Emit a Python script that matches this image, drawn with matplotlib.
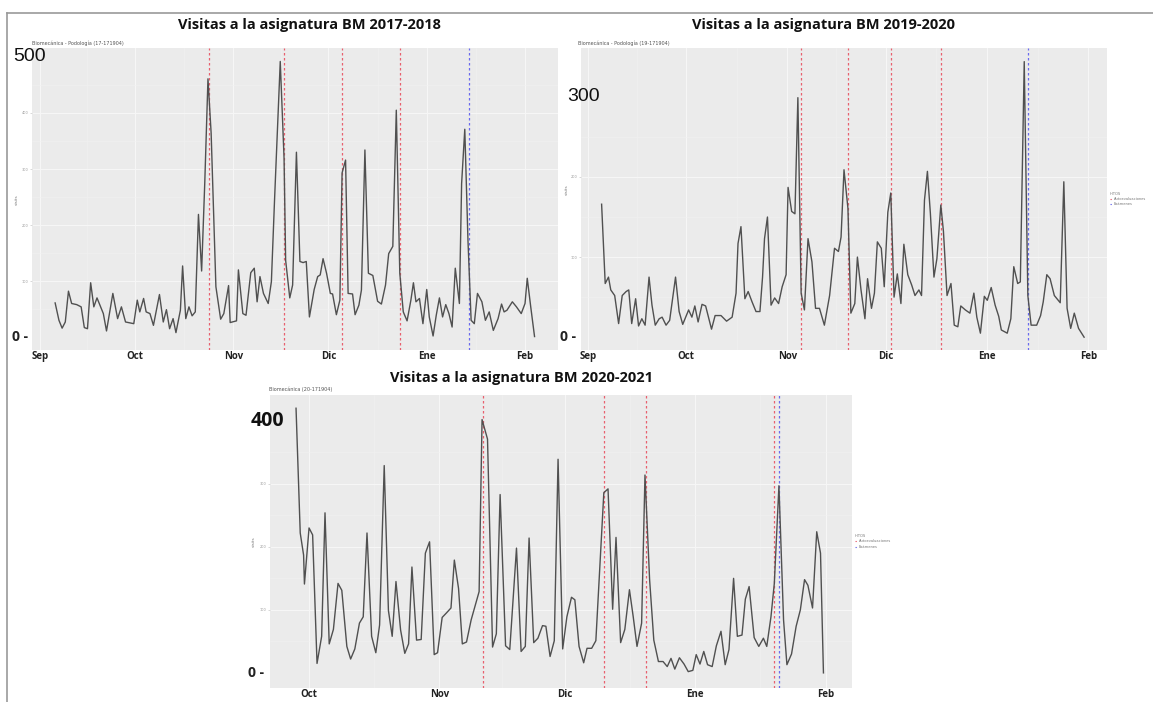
import numpy as np
import pandas as pd
import matplotlib
matplotlib.use("Agg")
import matplotlib.pyplot as plt
import matplotlib.transforms as mtransforms
from matplotlib.lines import Line2D

# ---- data (day offsets from the first month shown) ----
tl_day = [4.8, 6, 7, 8, 9, 10, 11.6, 13, 14, 15, 16, 17, 18, 20, 21, 23, 24.5, 25.7, 27, 29.6,
          30.7, 31.5, 32.7, 33.5, 34.7, 35.8, 37.7, 38.9, 39.9, 40.9, 42, 42.9, 44.3, 45, 46, 47, 48, 49, 50, 51,
          52, 53, 54, 55.5, 57, 58, 59.5, 60, 62, 62.6, 64, 65, 66.5, 67.6, 68.5, 69.4, 70.5, 72, 73, 74,
          75.8, 77, 77.5, 78.8, 79.7, 80.9, 82, 83, 84, 85, 86.5, 87.6, 88.4, 89.3, 90.4, 91.6, 92.3, 93.5, 94.6, 95.3,
          96.4, 97.2, 98.6, 99.4, 100.6, 101.4, 102.5, 103.6, 105, 106.5, 107.7, 109, 110, 111.3, 112.4, 113.5, 114.6, 115.8, 117, 117.8,
          118.6, 119.7, 120.8, 122, 122.8, 124, 125, 126, 127, 128, 129, 130, 131, 132.3, 133, 134, 135, 136, 137, 138,
          139.4, 140.5, 141.7, 143, 144.5, 145.6, 146.4, 147.3, 149, 150.3, 151.8, 153, 153.7, 154.8, 156]
tl_val = [61, 30, 16, 27, 82, 60, 58, 54, 17, 15, 97, 54, 70, 42, 11, 78, 33, 54, 27, 24,
          66, 45, 69, 45, 42, 21, 76, 27, 49, 15, 33, 8, 48, 127, 33, 54, 38, 45, 219, 118,
          277, 461, 364, 90, 32, 42, 92, 26, 29, 120, 42, 39, 115, 123, 63, 108, 78, 60, 99, 245,
          492, 319, 137, 70, 93, 330, 135, 133, 135, 36, 85, 108, 111, 140, 114, 78, 77, 40, 66, 293,
          316, 78, 77, 40, 57, 84, 334, 114, 110, 64, 59, 93, 149, 162, 405, 114, 45, 29, 66, 97,
          63, 69, 24, 85, 36, 2, 39, 70, 36, 58, 42, 18, 123, 60, 274, 371, 173, 30, 24, 78,
          63, 30, 45, 12, 33, 59, 45, 48, 63, 54, 42, 60, 105, 54, 1]
tl_autoeval = [53.3, 76.9, 95.3, 113.7]
tl_examen = [135.2]

tr_day = [4.2, 5.3, 6.3, 7, 8.2, 9.4, 10.5, 11.7, 12.5, 13.4, 14.6, 15.5, 16.5, 17.5, 18.7, 19.6, 20.6, 21.8, 22.7, 23.9,
          25, 26.8, 27.9, 29, 30.8, 31.8, 32.7, 33.7, 34.9, 36, 37.8, 38.9, 40.7, 42.4, 44.1, 45.3, 45.9, 46.8, 48, 49,
          50.2, 51.4, 52.6, 53.4, 54, 54.9, 56, 57.1, 58.3, 59.4, 60.6, 61.2, 62.3, 63.3, 64.2, 65.2, 66.2, 67.3, 68.5, 69.6,
          70.8, 72.3, 73.9, 75.4, 76.6, 77.4, 78.3, 79.5, 80.4, 81.6, 82.4, 83.5, 84.7, 85.5, 86.7, 87.6, 88.5, 89.7, 90.6, 91.7,
          92.6, 93.6, 94.6, 95.7, 96.6, 97.8, 99, 100, 101.2, 102, 102.9, 103.8, 104.7, 105.8, 106.7, 107.9, 108.7, 109.8, 111, 112,
          113.1, 114, 115.4, 116.8, 118, 118.9, 120, 121.2, 122.1, 123.3, 124.5, 125.6, 126.4, 128.2, 129.3, 130.2, 131.4, 132.2, 133.4, 134.5,
          135.5, 137.2, 138.4, 139.2, 140.3, 141.3, 142.6, 144.4, 145.5, 146.5, 147.6, 148.7, 150, 151.7]
tr_val = [166, 67, 75, 59, 52, 17, 52, 57, 59, 17, 48, 14, 23, 15, 75, 40, 15, 23, 25, 15,
          21, 75, 32, 16, 34, 25, 39, 19, 41, 39, 10, 27, 27, 20, 25, 55, 117, 138, 48, 57,
          44, 32, 32, 75, 123, 150, 40, 49, 42, 63, 78, 187, 157, 154, 299, 55, 34, 123, 94, 36,
          36, 15, 52, 111, 107, 125, 209, 161, 30, 42, 100, 59, 23, 73, 36, 55, 119, 111, 63, 156,
          180, 50, 79, 42, 116, 78, 65, 52, 59, 52, 171, 207, 155, 75, 98, 165, 132, 52, 67, 15,
          13, 39, 34, 30, 55, 25, 5, 51, 46, 62, 40, 26, 9, 5, 23, 88, 67, 69, 344, 52,
          15, 15, 27, 44, 78, 73, 52, 43, 194, 36, 11, 30, 11, 0]
tr_autoeval = [65.2, 79.5, 92.8, 107.9]
tr_examen = [134.5]

bt_day = [-3.1, -2.1, -1.3, -1.1, 0, 0.85, 1.9, 3, 3.8, 4.8, 5.8, 6.9, 7.8, 9, 9.9, 10.9, 12, 12.9, 13.8, 14.9,
          15.9, 16.8, 17.9, 18.9, 19.8, 20.7, 21.8, 22.8, 23.7, 24.5, 25.6, 26.7, 27.7, 28.7, 29.8, 30.6, 31.7, 32.7, 33.8, 34.6,
          35.6, 36.5, 37.5, 38.6, 39.4, 40.5, 41.2, 42.5, 43.7, 44.6, 45.5, 46.8, 47.8, 49.4, 50.5, 51.5, 52.4, 53.5, 54.5, 55.6,
          56.4, 57.4, 58.4, 59.3, 60.4, 61.4, 62.5, 63.3, 64.3, 65.4, 66.2, 67.3, 68.3, 69.4, 70.2, 71.2, 72.3, 73.1, 74.2, 75.2,
          76.3, 77.2, 78.1, 79.2, 80, 81.1, 82.1, 83.2, 84.3, 85.3, 86.2, 87.1, 88.2, 89.3, 90.3, 91.4, 92.2, 93.1, 94, 94.9,
          96, 97, 98.1, 99.1, 100, 101.1, 102, 103.1, 103.9, 104.8, 106, 107.1, 108.2, 109, 110, 110.8, 111.9, 113, 113.8, 114.9,
          116, 117, 118, 118.8, 119.9, 120.9, 121.8, 122.5]
bt_val = [420, 222, 187, 141, 230, 219, 15, 58, 254, 46, 69, 142, 131, 42, 22, 38, 79, 89, 222, 58,
          32, 76, 329, 99, 58, 145, 68, 31, 46, 168, 52, 53, 190, 208, 29, 32, 88, 95, 103, 179,
          134, 46, 49, 84, 103, 129, 402, 371, 41, 62, 283, 43, 37, 198, 34, 42, 214, 48, 55, 75,
          74, 26, 51, 339, 38, 89, 120, 116, 42, 16, 39, 39, 51, 187, 286, 292, 101, 215, 48, 69,
          132, 89, 42, 79, 314, 148, 52, 18, 18, 10, 23, 6, 24, 14, 2, 4, 29, 14, 34, 13,
          10, 43, 66, 13, 37, 150, 58, 60, 117, 137, 56, 42, 55, 42, 89, 142, 297, 84, 13, 30,
          74, 100, 148, 139, 103, 224, 190, 0]
bt_autoeval = [41.4, 70.2, 80.2, 110.8]
bt_examen = [111.9]

month_labels_sep = ["Sep", "Oct", "Nov", "Dic", "Ene", "Feb"]
month_labels_oct = ["Oct", "Nov", "Dic", "Ene", "Feb"]

RED = "#E8606E"
BLUE = "#6A6AEE"

W, H = 1153, 702
fig = plt.figure(figsize=(W / 100, H / 100), dpi=100)


def rect(x0, y0, x1, y1):
    return [x0 / W, 1 - y1 / H, (x1 - x0) / W, (y1 - y0) / H]


def panel(box, start, days, vals, autoeval, examen, xlim, ylim, labels, yticks, legend):
    ax = fig.add_axes(rect(*box))
    ax.set_facecolor("#EBEBEB")
    start = pd.Timestamp(start)
    dates = start + pd.to_timedelta(days, unit="D")
    # milestone lines drawn under the visits line, as in the reference
    for d in autoeval:
        ax.axvline(start + pd.Timedelta(days=d), color=RED, lw=0.9,
                   ls=(0, (2, 2)), zorder=2)
    for d in examen:
        ax.axvline(start + pd.Timedelta(days=d), color=BLUE, lw=0.9,
                   ls=(0, (2, 2)), zorder=2)
    ax.plot(dates, vals, color="#505050", lw=1.0, zorder=3)
    ax.set_xlim(start + pd.Timedelta(days=xlim[0]), start + pd.Timedelta(days=xlim[1]))
    ax.set_ylim(*ylim)
    months = pd.date_range(start, periods=len(labels), freq="MS")
    ax.set_xticks(months)
    ax.set_xticklabels(labels, fontsize=7, fontweight="bold", color="#222222",
                       family="Open Sans")
    mids = months[:-1] + (months[1:] - months[:-1]) / 2
    ax.set_xticks(mids, minor=True)
    ax.set_yticks(yticks)
    ax.set_yticklabels([str(v) for v in yticks], fontsize=2.5, color="#999999")
    ax.set_yticks([v - 50 for v in yticks] + [yticks[-1] + 50], minor=True)
    ax.tick_params(axis="x", length=0, pad=1)
    ax.tick_params(axis="y", length=1.5, width=0.4, color="#bbbbbb", pad=1)
    ax.tick_params(which="minor", length=0)
    ax.grid(which="major", color="#F6F6F6", lw=0.8)
    ax.grid(which="minor", color="#F1F1F1", lw=0.4)
    ax.set_axisbelow(True)
    for s in ax.spines.values():
        s.set_visible(False)
    if legend:
        h = [Line2D([], [], color=RED, lw=0.8, ls=(0, (1.2, 1.2))),
             Line2D([], [], color=BLUE, lw=0.8, ls=(0, (1.2, 1.2)))]
        lg = ax.legend(h, ["Autoevaluaciones", "Exámenes"], title="HITOS",
                       loc="center left", bbox_to_anchor=(1.0, 0.5), frameon=False,
                       fontsize=2.6, title_fontsize=2.6, handlelength=0.6,
                       handletextpad=0.5, labelspacing=0.4, borderpad=0.2)
        lg._legend_box.align = "left"
        for t in lg.get_texts():
            t.set_color("#777777")
        lg.get_title().set_color("#777777")
    return ax


ax1 = panel((32, 48, 558, 350), "2017-09-01", tl_day, tl_val, tl_autoeval, tl_examen,
            (-2.5, 163.4), (-23, 516), month_labels_sep, [100, 200, 300, 400], False)
ax2 = panel((581, 48, 1107, 350), "2019-09-01", tr_day, tr_val, tr_autoeval, tr_examen,
            (-2.1, 158.7), (-16, 361), month_labels_sep, [100, 200], True)
ax3 = panel((270, 395, 852, 688), "2020-10-01", bt_day, bt_val, bt_autoeval, bt_examen,
            (-9.3, 129.3), (-24, 441), month_labels_oct, [100, 200, 300], True)

# titles, subtitles and axis names
fig.text(309 / W, 1 - 25 / H, "Visitas a la asignatura BM 2017-2018", ha="center", va="center",
         fontsize=10.5, fontweight="bold", family="Open Sans", color="#111111")
fig.text(824 / W, 1 - 25 / H, "Visitas a la asignatura BM 2019-2020", ha="center", va="center",
         fontsize=10.5, fontweight="bold", family="Open Sans", color="#111111")
fig.text(522 / W, 1 - 378 / H, "Visitas a la asignatura BM 2020-2021", ha="center", va="center",
         fontsize=10.5, fontweight="bold", family="Open Sans", color="#111111")
fig.text(32 / W, 1 - 43 / H, "Biomecánica - Podología (17-171904)", ha="left", va="center",
         fontsize=3.5, color="#555555")
fig.text(578 / W, 1 - 43 / H, "Biomecánica - Podología (19-171904)", ha="left", va="center",
         fontsize=3.5, color="#555555")
fig.text(269 / W, 1 - 389 / H, "Biomecánica (20-171904)", ha="left", va="center",
         fontsize=3.5, color="#555555")
for x, y in [(17, 200), (567, 190), (254, 542)]:
    fig.text(x / W, 1 - y / H, "visits", rotation=90, ha="center", va="center",
             fontsize=3, color="#777777")

# big overlaid axis values
for ax, x, val, txt, w in [(ax1, 13, 500, "500", "normal"), (ax2, 567, 300, "300", "normal"),
                           (ax3, 251, 400, "400", "bold")]:
    tr = mtransforms.blended_transform_factory(fig.transFigure, ax.transData)
    fam = "Liberation Sans" if w == "normal" else "Open Sans"
    ax.text(x / W, val, txt, transform=tr, ha="left", va="center", fontsize=14,
            fontweight=w, family=fam, color="#111111", clip_on=False)
for ax, x in [(ax1, 12), (ax2, 560), (ax3, 248)]:
    tr = mtransforms.blended_transform_factory(fig.transFigure, ax.transData)
    ax.text(x / W, 0, "0 -", transform=tr, ha="left", va="center", fontsize=10,
            fontweight="bold", family="Open Sans", color="#222222", clip_on=False)

# screenshot frame
fig.add_artist(Line2D([7 / W, 1], [1 - 13 / H, 1 - 13 / H], color="#999999", lw=1.2))
fig.add_artist(Line2D([7 / W, 7 / W], [1 - 13 / H, 0], color="#999999", lw=1.2))

fig.savefig("out.png", dpi=100)
